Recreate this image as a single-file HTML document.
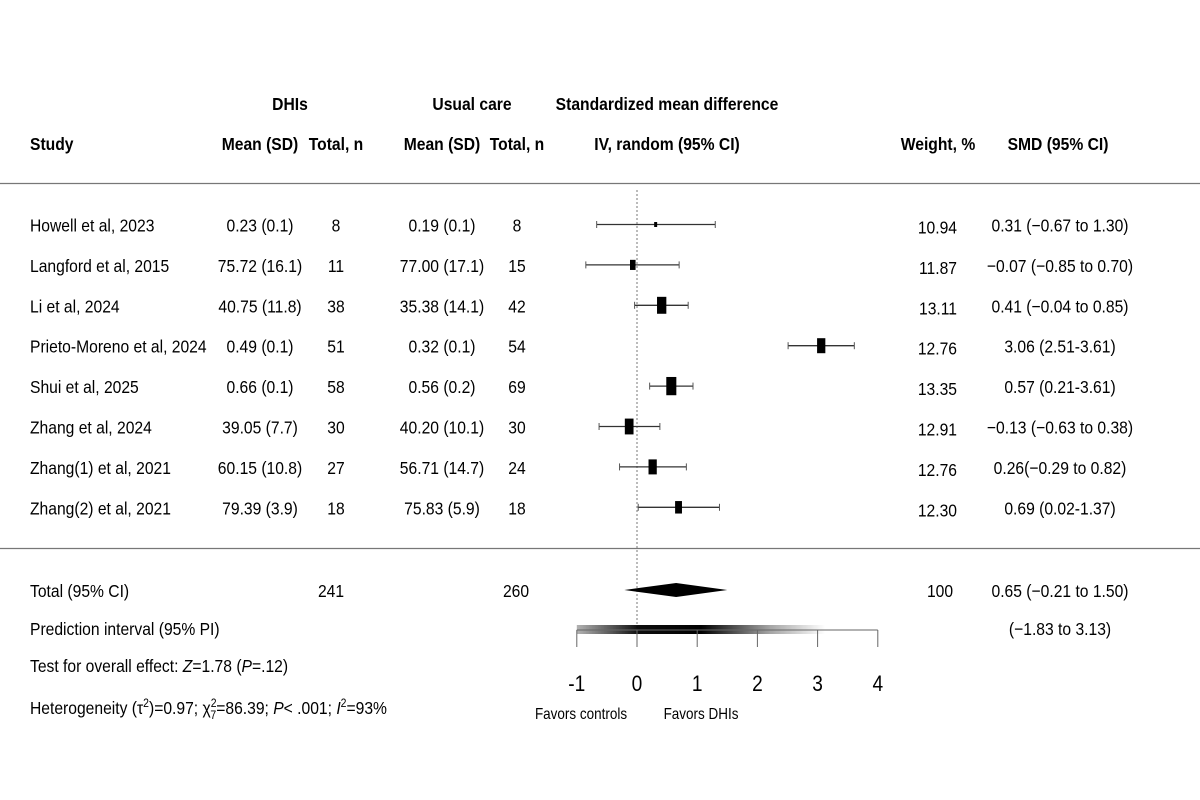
<!DOCTYPE html>
<html><head><meta charset="utf-8"><style>
html,body{margin:0;padding:0;background:#fff;}
svg{display:block;font-family:"Liberation Sans",Arial,sans-serif;}
</style></head><body>
<svg id="plot" width="1200" height="800" viewBox="0 0 1200 800"></svg>
<script>
const studies=["Howell et al, 2023","Langford et al, 2015","Li et al, 2024","Prieto-Moreno et al,  2024","Shui et al, 2025","Zhang et al, 2024","Zhang(1) et al, 2021","Zhang(2) et al, 2021"];
const dhiMean=["0.23 (0.1)","75.72 (16.1)","40.75 (11.8)","0.49 (0.1)","0.66 (0.1)","39.05 (7.7)","60.15 (10.8)","79.39 (3.9)"];
const dhiN=[8,11,38,51,58,30,27,18];
const ucMean=["0.19 (0.1)","77.00 (17.1)","35.38 (14.1)","0.32 (0.1)","0.56 (0.2)","40.20 (10.1)","56.71 (14.7)","75.83 (5.9)"];
const ucN=[8,15,42,54,69,30,24,18];
const weights=[10.94,11.87,13.11,12.76,13.35,12.91,12.76,12.30];
const smd=[0.31,-0.07,0.41,3.06,0.57,-0.13,0.26,0.69];
const lo=[-0.67,-0.85,-0.04,2.51,0.21,-0.63,-0.29,0.02];
const hi=[1.30,0.70,0.85,3.61,0.93,0.38,0.82,1.37];
const smdLabels=["0.31 (\u22120.67 to 1.30)","\u22120.07 (\u22120.85 to 0.70)","0.41 (\u22120.04 to 0.85)","3.06 (2.51-3.61)","0.57 (0.21-3.61)","\u22120.13 (\u22120.63 to 0.38)","0.26(\u22120.29 to 0.82)","0.69 (0.02-1.37)"];
const pooled=[0.65,-0.21,1.50];
const predInt=[-1.83,3.13];
const ticks=[-1,0,1,2,3,4];

const svg=document.getElementById('plot');
const NS="http://www.w3.org/2000/svg";
const X=v=>637+v*60.2;
const rowY=i=>224.5+i*40.4;
function el(tag,attrs,name){const e=document.createElementNS(NS,tag);for(const k in attrs)e.setAttribute(k,attrs[k]);


svg.appendChild(e);return e;}
function txt(x,y,s,anchor,name,bold){const e=el('text',{transform:`translate(${x},${y}) scale(0.87,1)`,'text-anchor':anchor||'start','font-size':18,fill:'#000','font-weight':bold?'bold':'normal'},name);e.innerHTML=s;return e;}

// headers
txt(290,110,"DHIs","middle","dhi-header",1);
txt(472,110,"Usual care","middle","usual-care-header",1);
txt(667,110,"Standardized mean difference","middle","smd-header",1);
txt(30,150,"Study","start","study-header",1);
txt(260,150,"Mean (SD)","middle","dhi-mean-header",1);
txt(336,150,"Total, n","middle","dhi-total-header",1);
txt(442,150,"Mean (SD)","middle","uc-mean-header",1);
txt(517,150,"Total, n","middle","uc-total-header",1);
txt(667,150,"IV, random (95% CI)","middle","iv-random-header",1);
txt(938,150,"Weight, %","middle","weight-header",1);
txt(1058,150,"SMD (95% CI)","middle","smd-ci-header",1);
el('line',{x1:0,x2:1200,y1:183.5,y2:183.5,stroke:'#777','stroke-width':1.2},'header-divider');
el('line',{x1:0,x2:1200,y1:548.5,y2:548.5,stroke:'#777','stroke-width':1.2},'total-divider');
// zero line
el('line',{x1:X(0),x2:X(0),y1:190,y2:630,stroke:'#777','stroke-width':1,'stroke-dasharray':'2,2'},'null-line');

studies.forEach((s,i)=>{
  const y=rowY(i);
  txt(30,y+7,s,"start","study-name");
  txt(260,y+7,dhiMean[i],"middle","dhi-mean");
  txt(336,y+7,dhiN[i],"middle","dhi-n");
  txt(442,y+7,ucMean[i],"middle","uc-mean");
  txt(517,y+7,ucN[i],"middle","uc-n");
  txt(957,y+9,weights[i].toFixed(2),"end","weight-value");
  txt(1060,y+7,smdLabels[i],"middle","smd-label");
  el('line',{x1:X(lo[i]),x2:X(hi[i]),y1:y,y2:y,stroke:'#333','stroke-width':1.3},'ci-line');
  el('line',{x1:X(lo[i]),x2:X(lo[i]),y1:y-3.5,y2:y+3.5,stroke:'#555','stroke-width':1},'ci-cap');
  el('line',{x1:X(hi[i]),x2:X(hi[i]),y1:y-3.5,y2:y+3.5,stroke:'#555','stroke-width':1},'ci-cap');
  const h=Math.max(5,5+(weights[i]-10.94)*5.5), w=Math.max(3,h*0.55);
  el('rect',{x:X(smd[i])-w/2,y:y-h/2,width:w,height:h,fill:'#000'},'effect-box');
});

// totals
const ty=590;
txt(30,ty+7,"Total (95% CI)","start","total-label");
txt(331,ty+7,"241","middle","total-dhi-n");
txt(516,ty+7,"260","middle","total-uc-n");
txt(940,ty+7,"100","middle","total-weight");
txt(1060,ty+7,"0.65 (\u22120.21 to 1.50)","middle","total-smd-label");
el('polygon',{points:`${X(pooled[1])},${ty} ${X(pooled[0])},${ty-7} ${X(pooled[2])},${ty} ${X(pooled[0])},${ty+7}`,fill:'#000'},'pooled-diamond');

txt(30,635,"Prediction interval (95% PI)","start","prediction-interval-label");
txt(1060,635,"(\u22121.83 to 3.13)","middle","prediction-interval-value");
txt(30,672,"Test for overall effect: <tspan font-style='italic'>Z</tspan>=1.78 (<tspan font-style='italic'>P</tspan>=.12)","start","overall-effect-test");
txt(30,714,"Heterogeneity (\u03c4<tspan dy='-7' font-size='12'>2</tspan><tspan dy='7'>)=0.97; \u03c7</tspan><tspan dy='-7' font-size='12'>2</tspan><tspan dx='-7' dy='12' font-size='12'>7</tspan><tspan dy='-5'>=86.39; </tspan><tspan font-style='italic'>P</tspan>&lt; .001; <tspan font-style='italic'>I</tspan><tspan dy='-7' font-size='12'>2</tspan><tspan dy='7'>=93%</tspan>","start","heterogeneity");

// prediction interval gradient bar
const defs=document.createElementNS(NS,'defs');svg.appendChild(defs);
defs.innerHTML=`<linearGradient id="pig" x1="0" x2="1"><stop offset="0" stop-color="#000" stop-opacity="0.3"/><stop offset="0.25" stop-color="#000" stop-opacity="0.95"/><stop offset="0.5" stop-color="#000" stop-opacity="1"/><stop offset="0.78" stop-color="#000" stop-opacity="0.35"/><stop offset="1" stop-color="#000" stop-opacity="0"/></linearGradient>`;
const pL=Math.max(X(predInt[0]),X(-1));
el('rect',{x:pL,y:625,width:X(predInt[1])-pL,height:9,fill:'url(#pig)'},'prediction-interval-bar');
// axis
el('line',{x1:X(ticks[0]),x2:X(ticks[ticks.length-1]),y1:630,y2:630,stroke:'#666','stroke-width':1},'x-axis');
ticks.forEach(t=>{
  el('line',{x1:X(t),x2:X(t),y1:630,y2:647,stroke:'#666','stroke-width':1},'x-tick');
  txt(X(t),691,t,"middle","x-tick-label").setAttribute('font-size',22);
});
txt(581,719,"Favors controls","middle","favors-controls-label").setAttribute('font-size',15.5);
txt(701,719,"Favors DHIs","middle","favors-dhis-label").setAttribute('font-size',15.5);
</script>
</body></html>
